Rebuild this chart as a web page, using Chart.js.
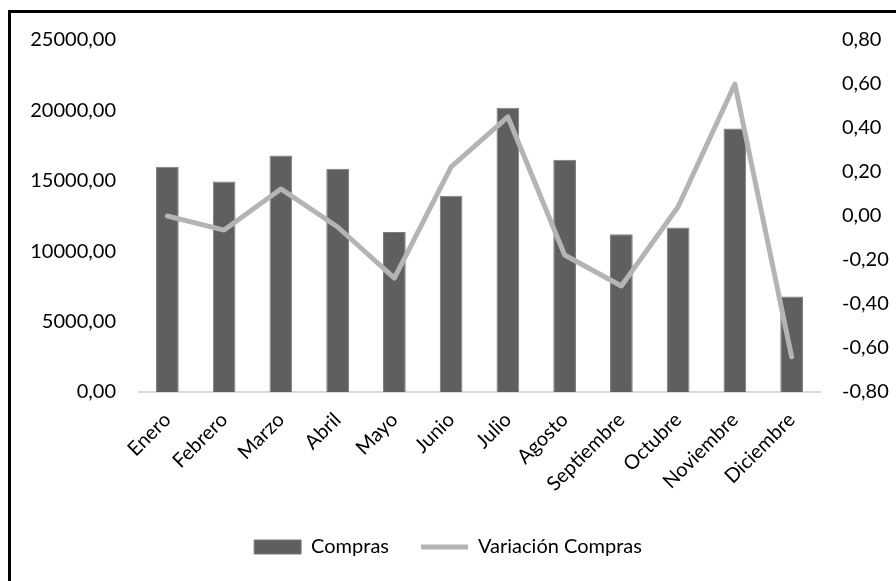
<!DOCTYPE html>
<html>
<head>
<meta charset="utf-8">
<script src="https://cdn.jsdelivr.net/npm/chart.js@4"></script>
<style>
	html, body { margin: 0; padding: 0; background: #fff; overflow: hidden; }
	#wrap { position: relative; width: 896px; height: 581px; }
	#frame { position: absolute; left: 8px; top: 10px; right: -20px; bottom: -20px; border: 3px solid #000; pointer-events: none; }
</style>
</head>
<body>
<div id="wrap">
	<canvas id="chart-combo"></canvas>
	<div id="frame"></div>
</div>
<script>
// Data
const months = ['Enero', 'Febrero', 'Marzo', 'Abril', 'Mayo', 'Junio', 'Julio', 'Agosto', 'Septiembre', 'Octubre', 'Noviembre', 'Diciembre'];
const compras = [16000, 14950, 16790, 15860, 11360, 13930, 20190, 16500, 11210, 11690, 18710, 6790];
const variacion = [0.00, -0.064, 0.123, -0.05, -0.282, 0.223, 0.451, -0.177, -0.318, 0.042, 0.60, -0.64];

const fmt = (v) => (Math.abs(v) < 1e-9 ? 0 : v).toFixed(2).replace('.', ',');

!(function () {
	const ctx = document.getElementById('chart-combo');
	Chart.defaults.font.family = 'Lato, sans-serif';
	Chart.defaults.color = '#000';

	new Chart(ctx, {
		type: 'bar',
		data: {
			labels: months,
			datasets: [
				{
					type: 'bar',
					label: 'Compras',
					data: compras,
					yAxisID: 'y',
					backgroundColor: '#5f5f5f',
					borderColor: '#7c7c7c',
					borderWidth: 1,
					categoryPercentage: 1,
					barPercentage: 0.4,
					pointStyle: 'rect',
					order: 1,
				},
				{
					type: 'line',
					label: 'Variación Compras',
					data: variacion,
					yAxisID: 'y1',
					borderColor: '#b4b4b4',
					backgroundColor: '#b4b4b4',
					borderWidth: 5,
					borderCapStyle: 'round',
					borderJoinStyle: 'round',
					pointRadius: 0,
					tension: 0,
					pointStyle: 'line',
					order: 0,
				},
			],
		},
		options: {
			responsive: true,
			maintainAspectRatio: false,
			animation: false,
			layout: {
				padding: { top: 40, left: 0, right: 0, bottom: 14 },
			},
			scales: {
				x: {
					grid: { display: false },
					border: { color: '#d9d9d9', width: 2 },
					ticks: { font: { size: 20 }, minRotation: 45, maxRotation: 45, padding: 8 },
					afterFit: (s) => { s.height = 113; },
				},
				y: {
					position: 'left',
					min: 0,
					max: 25000,
					grid: { display: false, drawTicks: false },
					border: { display: false },
					ticks: { stepSize: 5000, font: { size: 20 }, padding: 23, callback: (v) => fmt(v) },
					afterFit: (s) => { s.width = 139; },
				},
				y1: {
					position: 'right',
					min: -0.8,
					max: 0.8,
					grid: { display: false, drawTicks: false },
					border: { display: false },
					ticks: { stepSize: 0.2, font: { size: 20 }, padding: 22, callback: (v) => fmt(v) },
					afterFit: (s) => { s.width = 76; },
				},
			},
			plugins: {
				tooltip: { enabled: false },
				legend: {
					position: 'bottom',
					labels: {
						usePointStyle: true,
						pointStyleWidth: 47,
						boxHeight: 14,
						padding: 32,
						font: { size: 20 },
						sort: (a, b) => a.datasetIndex - b.datasetIndex,
					},
				},
			},
		},
	});
})();
</script>
</body>
</html>
